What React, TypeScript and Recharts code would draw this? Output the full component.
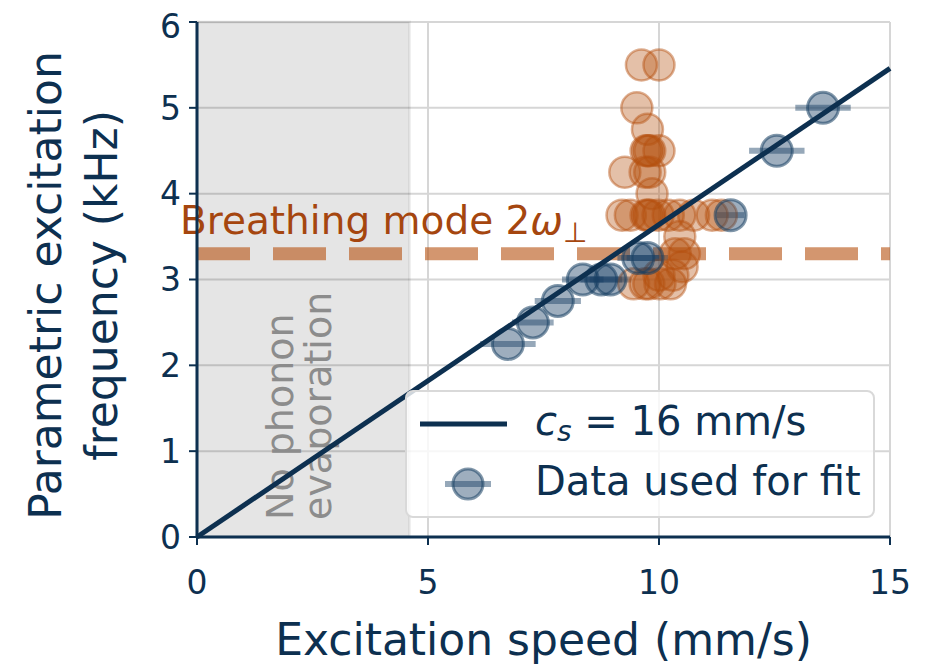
import React from 'react';
import {
  ComposedChart, Scatter, XAxis, YAxis, CartesianGrid, ReferenceArea,
  ReferenceLine, ErrorBar, Legend, Label,
} from 'recharts';

// excitation speed (mm/s) vs parametric excitation frequency (kHz)
const fitSpeed = [6.73, 7.27, 7.81, 8.35, 8.75, 8.95, 9.55, 9.75, 11.55, 12.55, 13.55];
const fitFreq = [2.25, 2.5, 2.75, 3.0, 3.0, 3.0, 3.25, 3.25, 3.75, 4.5, 5.0];
const fitErr = [0.6, 0.45, 0.5, 0.45, 0.45, 0.45, 0.45, 0.45, 0.3, 0.6, 0.6];

const otherSpeed = [
  9.62, 10.0, 9.52, 9.75, 9.72, 9.76, 9.8, 10.0, 9.26, 9.7, 9.8, 9.85,
  9.2, 9.38, 9.72, 9.76, 9.8, 9.98, 10.2, 10.45, 10.75, 11.15, 11.35,
  10.45, 10.35, 10.55, 10.5, 10.0, 10.3, 9.45, 9.7, 9.78, 10.02, 10.25,
];
const otherFreq = [
  5.5, 5.5, 5.0, 4.75, 4.5, 4.5, 4.5, 4.5, 4.25, 4.25, 4.25, 4.0,
  3.75, 3.75, 3.75, 3.75, 3.75, 3.75, 3.75, 3.75, 3.75, 3.75, 3.75,
  3.5, 3.3, 3.3, 3.15, 3.05, 3.05, 2.95, 2.95, 2.95, 2.95, 2.95,
];

const fitLineSpeed = [0, 15];
const fitLineFreq = [0, 5.46];

const xTicks = [0, 5, 10, 15];
const yTicks = [0, 1, 2, 3, 4, 5, 6];
const breathingFreq = 3.3;
const noEvapLimit = 4.6;

const fitData = fitSpeed.map((x, i) => ({ x, y: fitFreq[i], err: fitErr[i] }));
const otherData = otherSpeed.map((x, i) => ({ x, y: otherFreq[i] }));
const lineData = fitLineSpeed.map((x, i) => ({ x, y: fitLineFreq[i] }));

const NAVY = '#0d3050';
const BLUE = '#173f63';
const ORANGE = '#b5500f';
const FONT = 'DejaVu Sans, sans-serif';

const blueDot = (p: any) => (
  <circle cx={p.cx} cy={p.cy} r={15.5} fill={BLUE} fillOpacity={0.42}
    stroke={BLUE} strokeOpacity={0.55} strokeWidth={3} />
);
const orangeDot = (p: any) => (
  <circle cx={p.cx} cy={p.cy} r={15.5} fill={ORANGE} fillOpacity={0.36}
    stroke={ORANGE} strokeOpacity={0.45} strokeWidth={2.5} />
);

const LegendBox = () => (
  <div style={{
    boxSizing: 'border-box', width: '100%', height: '100%',
    background: 'rgba(255,255,255,0.8)', border: '2px solid #d9d9d9', borderRadius: 8,
    fontFamily: FONT, fontSize: 40, color: NAVY, position: 'relative',
  }}>
    <svg width={100} height={128} style={{ position: 'absolute', left: 8, top: 0 }}>
      <line x1={5} x2={92} y1={32} y2={32} stroke={NAVY} strokeWidth={5} />
      <line x1={30} x2={76} y1={92} y2={92} stroke={BLUE} strokeOpacity={0.45} strokeWidth={6} />
      <circle cx={53} cy={92} r={15} fill={BLUE} fillOpacity={0.42}
        stroke={BLUE} strokeOpacity={0.55} strokeWidth={3} />
    </svg>
    <div style={{ position: 'absolute', left: 128, top: 6, whiteSpace: 'nowrap' }}>
      <i>c</i><sub style={{ fontSize: 28, fontStyle: 'italic', verticalAlign: '-6px' }}>s</sub> = 16 mm/s
    </div>
    <div style={{ position: 'absolute', left: 128, top: 66, whiteSpace: 'nowrap' }}>
      Data used for fit
    </div>
  </div>
);

const XTitle = (props: any) => {
  const { viewBox } = props;
  return (
    <text x={viewBox.x + viewBox.width / 2} y={647} textAnchor="middle"
      fill={NAVY} fontFamily={FONT} fontSize={44}>
      Excitation speed (mm/s)
    </text>
  );
};

const YTitle = (props: any) => {
  const { viewBox } = props;
  const cy = viewBox.y + viewBox.height / 2 + 6;
  return (
    <g fill={NAVY} fontFamily={FONT} fontSize={44} textAnchor="middle">
      <text transform={`translate(53, ${cy}) rotate(-90)`}>Parametric excitation</text>
      <text transform={`translate(109, ${cy}) rotate(-90)`}>frequency (kHz)</text>
    </g>
  );
};

const BreathingLabel = (props: any) => {
  const { viewBox } = props;
  return (
    <text x={viewBox.x - 17} y={viewBox.y - 20} fill="#a5460f" fontFamily={FONT} fontSize={39}>
      Breathing mode 2<tspan fontStyle="italic">ω</tspan>
      <tspan fontSize={28} dy={8}>⊥</tspan>
    </text>
  );
};

const NoEvapLabel = (props: any) => {
  const { viewBox } = props;
  const bottom = viewBox.y + viewBox.height - 17;
  const left = viewBox.x;
  return (
    <g fill="#8c8c8c" fontFamily={FONT} fontSize={38}>
      <text transform={`translate(${left + 96}, ${bottom}) rotate(-90)`}>No phonon</text>
      <text transform={`translate(${left + 134}, ${bottom}) rotate(-90)`}>evaporation</text>
    </g>
  );
};

export default function App() {
  return (
    <ComposedChart width={922} height={662} margin={{ top: 14, right: 40, bottom: 0, left: 0 }}>
      <CartesianGrid stroke="#d6d6d6" strokeWidth={2} vertical horizontal />
      <XAxis type="number" dataKey="x" domain={[0, 15]} ticks={xTicks} height={133}
        axisLine={{ stroke: NAVY, strokeWidth: 3 }} tickLine={{ stroke: NAVY, strokeWidth: 2 }}
        tickSize={8} tickMargin={26}
        tick={{ fill: NAVY, fontSize: 33, fontFamily: FONT }}>
        <Label content={<XTitle />} />
      </XAxis>
      <XAxis xAxisId="top" orientation="top" type="number" domain={[0, 15]} height={0}
        tick={false} tickLine={false} axisLine={{ stroke: NAVY, strokeWidth: 3 }} />
      <YAxis type="number" dataKey="y" domain={[0, 6]} ticks={yTicks} width={189}
        axisLine={{ stroke: NAVY, strokeWidth: 3 }} tickLine={{ stroke: NAVY, strokeWidth: 2 }}
        tickSize={8} tickMargin={8}
        tick={{ fill: NAVY, fontSize: 33, fontFamily: FONT }}>
        <Label content={<YTitle />} />
      </YAxis>
      <YAxis yAxisId="right" orientation="right" type="number" domain={[0, 6]} width={0}
        tick={false} tickLine={false} axisLine={{ stroke: NAVY, strokeWidth: 3 }} />
      <ReferenceArea x1={0} x2={noEvapLimit} y1={0} y2={6} fill="#000" fillOpacity={0.1}
        stroke="#000" strokeOpacity={0.06} strokeWidth={3} label={<NoEvapLabel />} />
      <ReferenceLine y={breathingFreq} stroke="#b5500f" strokeOpacity={0.6} strokeWidth={13}
        strokeDasharray="53 23" label={<BreathingLabel />} />
      <Scatter data={otherData} shape={orangeDot} isAnimationActive={false} />
      <Scatter data={fitData} shape={blueDot} isAnimationActive={false}>
        <ErrorBar dataKey="err" direction="x" width={0} stroke={BLUE} strokeOpacity={0.45}
          strokeWidth={6} isAnimationActive={false} />
      </Scatter>
      <Scatter data={lineData} line={{ stroke: NAVY, strokeWidth: 5 }} shape={() => <g />}
        isAnimationActive={false} />
      <Legend layout="horizontal" align="center" verticalAlign="middle" content={<LegendBox />}
        wrapperStyle={{ left: 397, top: 382, width: 470, height: 128 }} />
    </ComposedChart>
  );
}
